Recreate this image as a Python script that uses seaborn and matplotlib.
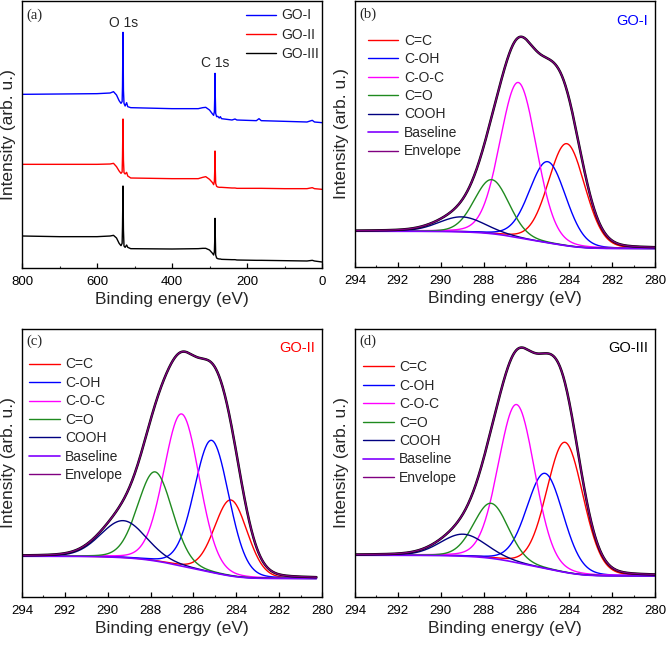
import numpy as np
import pandas as pd
import matplotlib
matplotlib.use("Agg")
import matplotlib.pyplot as plt
from matplotlib.ticker import MultipleLocator
import seaborn as sns

# ---------------- data ----------------
# (a) survey spectra: binding energy (eV) and intensity (arb. u.)
survey_be = [800, 700, 600, 565, 556, 548, 541, 536, 533, 532, 530.7, 529.5, 528, 525, 521, 518, 510,
             400, 330, 318, 310, 300, 292, 289, 287, 286, 285.3, 284.5, 283.5, 281, 278, 274, 271, 268,
             240, 232, 227, 175, 168, 162, 100, 40, 26, 20, 0]
go1_survey = [517, 518, 519, 521, 525, 515, 498, 490, 495, 540, 703, 530, 490, 482, 492, 480, 477,
              474, 474, 477, 478, 470, 458, 454, 465, 510, 580, 510, 460, 450, 451, 446, 450, 444,
              440, 443, 440, 438, 444, 438, 436, 434, 439, 434, 432]
go2_survey = [307, 307, 307, 308, 310, 300, 287, 280, 284, 330, 443, 320, 282, 278, 283, 272, 266,
              264, 264, 268, 270, 262, 252, 246, 256, 290, 347, 290, 250, 241, 239, 238, 238, 238,
              236, 236, 235, 235, 235, 235, 234, 234, 237, 234, 232]
go3_survey = [92, 90, 90, 92, 94, 86, 70, 63, 70, 120, 242, 110, 62, 58, 65, 58, 54,
              53, 54, 55, 55, 50, 40, 35, 45, 80, 145, 90, 35, 26, 24, 23, 23, 22,
              21, 21, 20, 19, 19, 19, 18, 17, 19, 17, 14]
survey_names = ["GO-I", "GO-II", "GO-III"]

# (b)-(d) C 1s deconvolution: component names, centres (eV), heights, FWHM (eV)
components = ["C=C", "C-OH", "C-O-C", "C=O", "COOH"]
go1_center = [284.12, 285.01, 286.38, 287.62, 289.02]
go1_height = [102, 81, 155, 54, 15]
go1_fwhm = [2.0, 2.0, 2.0, 1.9, 2.5]
go1_base = [35.7, 18.4]   # baseline level at 294 eV and at 280 eV

go2_center = [284.25, 285.15, 286.55, 287.79, 289.27]
go2_height = [76, 132, 152, 89, 37]
go2_fwhm = [1.8, 1.9, 1.95, 1.9, 2.5]
go2_base = [40.7, 18.4]

go3_center = [284.20, 285.13, 286.46, 287.65, 288.95]
go3_height = [130, 95, 158, 55, 22]
go3_fwhm = [2.0, 2.0, 2.0, 1.9, 2.5]
go3_base = [41.7, 21.0]

comp_colors = ["#ff0000", "#0000ff", "#ff00ff", "#1f8a1f", "#000080"]
baseline_color = "#8000ff"
envelope_color = "#800080"

# ---------------- style ----------------
sns.set_theme(style="ticks")
plt.rcParams["font.family"] = ["Liberation Sans", "DejaVu Sans"]
plt.rcParams["axes.linewidth"] = 1.0

fig = plt.figure(figsize=(6.66, 6.49), dpi=100)
W, H = 666.0, 649.0


def make_ax(left, top, right, bottom):
    return fig.add_axes([left / W, 1 - bottom / H, (right - left) / W, (bottom - top) / H])


ax_a = make_ax(22, 1, 322, 268)
ax_b = make_ax(355, 1, 655, 267)
ax_c = make_ax(22, 328.5, 322, 597)
ax_d = make_ax(355, 328.5, 655, 597)

tick_fs = 9.5
label_fs = 12.5
leg_fs = 10


def style_axis(ax):
    for s in ax.spines.values():
        s.set_color("black")
        s.set_linewidth(1.0)
    ax.tick_params(axis="x", which="major", direction="in", length=3.3, width=0.9,
                   labelsize=tick_fs, pad=6, top=False, colors="black")
    ax.tick_params(axis="x", which="minor", direction="in", length=1.8, width=0.8, top=False)
    ax.tick_params(axis="y", left=False, labelleft=False, which="both")
    ax.set_yticks([])
    ax.set_xlabel("Binding energy (eV)", fontsize=label_fs, labelpad=3)
    ax.set_ylabel("Intensity (arb. u.)", fontsize=label_fs, labelpad=4)


# ---------------- (a) survey ----------------
survey_colors = ["#0000ff", "#ff0000", "#000000"]
for vals, name, col in zip([go1_survey, go2_survey, go3_survey], survey_names, survey_colors):
    df = pd.DataFrame({"be": survey_be, "y": vals})
    sns.lineplot(data=df, x="be", y="y", ax=ax_a, color=col, lw=1.0, label=name, sort=False)
ax_a.set_xlim(800, 0)
ax_a.set_ylim(-4, 797)
ax_a.xaxis.set_major_locator(MultipleLocator(200))
ax_a.xaxis.set_minor_locator(MultipleLocator(100))
style_axis(ax_a)
ax_a.legend(loc="upper left", bbox_to_anchor=(0.745, 0.972), frameon=False, fontsize=leg_fs,
            handlelength=2.2, handletextpad=0.35, labelspacing=0.38, borderpad=0, borderaxespad=0)
ax_a.text(530, 730, "O 1s", ha="center", va="center", fontsize=10)
ax_a.text(285, 612, "C 1s", ha="center", va="center", fontsize=10)
ax_a.text(0.013, 0.945, "(a)", transform=ax_a.transAxes, ha="left", va="center",
          fontsize=10.5, family=["Liberation Serif", "DejaVu Serif"])

# ---------------- (b)-(d) ----------------
x = np.linspace(280, 294, 701)


def pv(xx, c, h, f, eta=0.1):
    s = f / (2 * np.sqrt(2 * np.log(2)))
    g = np.exp(-(xx - c) ** 2 / (2 * s * s))
    l = 1 / (1 + (2 * (xx - c) / f) ** 2)
    return h * ((1 - eta) * g + eta * l)


def draw_fit(ax, centers, heights, fwhms, base, xmin_data, tag, tagcol, letter, leg_x, leg_y, ylim):
    xx = x[x >= xmin_data]
    comps = [pv(xx, c, h, f) for c, h, f in zip(centers, heights, fwhms)]
    total = np.sum(comps, axis=0)
    cum = np.concatenate([[0], np.cumsum(0.5 * (total[1:] + total[:-1]) * np.diff(xx))])
    frac = cum / cum[-1]
    baseline = base[1] + (base[0] - base[1]) * frac
    env = baseline + total
    for comp, name, col in zip(comps, components, comp_colors):
        sns.lineplot(x=xx, y=baseline + comp, ax=ax, color=col, lw=1.0, label=name, sort=False)
    sns.lineplot(x=xx, y=baseline, ax=ax, color=baseline_color, lw=1.2, label="Baseline", sort=False)
    sns.lineplot(x=xx, y=env, ax=ax, color="black", lw=1.8, sort=False, legend=False)
    sns.lineplot(x=xx, y=env, ax=ax, color=envelope_color, lw=1.0, label="Envelope", sort=False)
    ax.set_xlim(294, 280)
    ax.set_ylim(0, ylim)
    ax.xaxis.set_major_locator(MultipleLocator(2))
    ax.xaxis.set_minor_locator(MultipleLocator(1))
    style_axis(ax)
    handles, labels = ax.get_legend_handles_labels()
    ax.legend(handles, labels, loc="upper left", bbox_to_anchor=(leg_x, leg_y), frameon=False,
              fontsize=leg_fs, handlelength=2.2, handletextpad=0.4, labelspacing=0.32,
              borderpad=0, borderaxespad=0)
    ax.text(0.977, 0.926, tag, transform=ax.transAxes, ha="right", va="center",
            fontsize=10.5, color=tagcol)
    ax.text(0.015, 0.952, letter, transform=ax.transAxes, ha="left", va="center",
            fontsize=10.5, family=["Liberation Serif", "DejaVu Serif"])


draw_fit(ax_b, go1_center, go1_height, go1_fwhm, go1_base, 280.0, "GO-I", "#0000ff", "(b)", 0.043, 0.877, 265.7)
draw_fit(ax_c, go2_center, go2_height, go2_fwhm, go2_base, 280.25, "GO-II", "#ff0000", "(c)", 0.024, 0.892, 268.4)
draw_fit(ax_d, go3_center, go3_height, go3_fwhm, go3_base, 280.0, "GO-III", "#000000", "(d)", 0.027, 0.882, 268.4)

fig.savefig("out.png", dpi=100)
